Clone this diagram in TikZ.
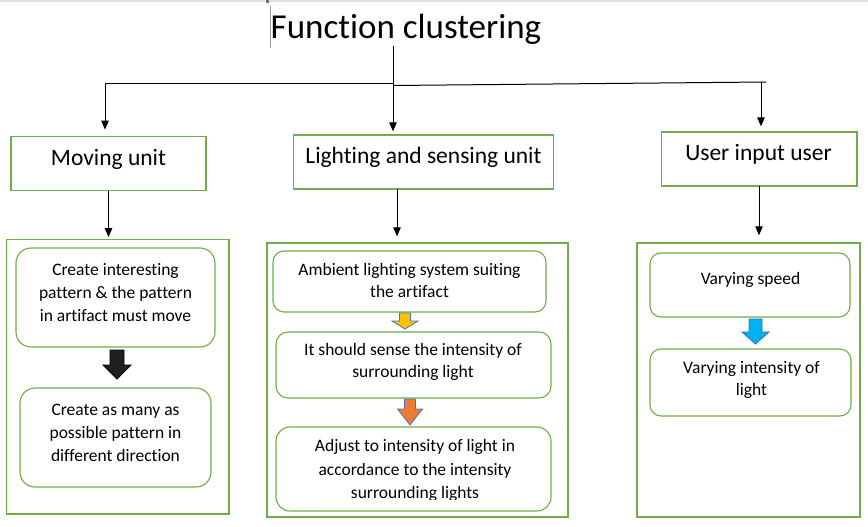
\documentclass[tikz,border=0pt]{standalone}
\usepackage{fontspec}
\setmainfont{Carlito}[Ligatures={NoCommon}]
\usetikzlibrary{arrows.meta}
\definecolor{grn}{HTML}{70AD47}
\definecolor{ayel}{HTML}{FFC000}
\definecolor{aora}{HTML}{ED7D31}
\definecolor{ablu}{HTML}{00B0F0}
\definecolor{aedge}{HTML}{4472C4}
\definecolor{bedge}{HTML}{2E75B6}
\tikzset{
  hbox/.style={draw=grn, line width=1.3pt, inner sep=0pt},
  obox/.style={draw=grn, line width=1.4pt, inner sep=0pt},
  ibox/.style={draw=grn, line width=1.1pt, inner sep=0pt, rounded corners=#1},
  htext/.style={anchor=base, inner sep=0pt, font=\fontsize{23.5}{28}\selectfont},
  itext/.style={anchor=base, inner sep=0pt, align=center, font=\fontsize{17.5}{23.3}\selectfont},
  ln/.style={draw=black, line width=1pt},
  arr/.style={ln, -{Triangle[width=7.5pt,length=9pt]}},
  blk/.style={line width=0.8pt, line join=miter}
}
\begin{document}
\begin{tikzpicture}[x=1pt,y=-1pt]
\useasboundingbox (0,0) rectangle (868,527);
% page artifacts
\draw[draw=black!12, line width=2pt] (0,1) -- (868,1);
\fill[black!55] (266,0) rectangle (269,3);
\draw[draw=black!40, line width=0.7pt] (270,6) -- (270,48);

% title
\node[anchor=base, inner sep=0pt, font=\fontsize{35}{40}\selectfont] (title) at (406,39) {Function clustering};

% header boxes
\node[hbox, minimum width=195pt, minimum height=54pt] (mov) at (108.5,163.25) {};
\node[htext] (movt) at (108.5,165) {Moving unit};
\node[hbox, minimum width=260pt, minimum height=54pt] (lig) at (423.5,162) {};
\node[htext] (ligt) at (423.5,163.5) {Lighting and sensing unit};
\node[hbox, minimum width=195.5pt, minimum height=54pt] (usr) at (759.25,159) {};
\node[htext] (usrt) at (758.5,160) {User input user};

% tree connectors
\coordinate (tb) at (393,46);
\coordinate (tj) at (393,84);
\coordinate (tj2) at (393,85.5);
\coordinate (tl) at (105,84);
\coordinate (tr) at (766,82);
\coordinate (trd) at (761,82.5);
\draw[arr, shorten >=3pt] (tb) -- (lig.north -| tb);
\draw[ln] (tl) -- (tj);
\draw[ln] (tj2) -- (tr);
\draw[arr, shorten >=6pt] (tl) -- (mov.north -| tl);
\draw[arr, shorten >=5pt] (trd) -- (usr.north -| trd);

% outer boxes
\node[obox, minimum width=222.3pt, minimum height=274.7pt] (lo) at (117.85,376.65) {};
\node[obox, minimum width=301pt, minimum height=274pt] (mo) at (417.5,380) {};
\node[obox, minimum width=223pt, minimum height=274pt] (ro) at (748.5,380) {};

\coordinate (ma) at (397,189);
\coordinate (ra) at (759,186);
\draw[arr, shorten >=1.5pt] (mov.south) -- (lo.north -| mov.south);
\draw[arr, shorten >=6pt] (ma) -- (mo.north -| ma);
\draw[arr, shorten >=7pt] (ra) -- (ro.north -| ra);

% left column
\node[ibox=15pt, minimum width=199pt, minimum height=99pt] (l1) at (115.5,297.5) {};
\node[itext] (l1t) at (115.5,321.6) {Create interesting\\pattern \& the pattern\\in artifact must move};
\node[ibox=15pt, minimum width=191pt, minimum height=99pt] (l2) at (115.5,437.5) {};
\node[itext] (l2t) at (115.5,461.6) {Create as many as\\possible pattern in\\different direction};
\filldraw[blk, fill=black!88, draw=black] (110,350) -- (124,350) -- (124,365) -- (131,365) -- (117,379) -- (103,365) -- (110,365) -- cycle;

% middle column
\node[ibox=11pt, minimum width=273pt, minimum height=61pt] (m1) at (409.5,281.5) {};
\node[itext, font=\fontsize{17.5}{22.5}\selectfont] (m1t) at (409.5,297.5) {Ambient lighting system suiting\\the artifact};
\node[ibox=12pt, minimum width=275pt, minimum height=66pt] (m2) at (413.5,365) {};
\node[itext, font=\fontsize{17.5}{22}\selectfont] (m2t) at (413,377) {It should sense the intensity of\\surrounding light};
\node[ibox=14pt, minimum width=275pt, minimum height=84pt] (m3) at (413.5,469) {};
\begin{scope}
\clip (270,430) rectangle (560,499.5);
\node[itext] (m3t) at (415,498.3) {Adjust to intensity of light in\\accordance to the intensity\\surrounding lights};
\end{scope}
\filldraw[blk, fill=ayel, draw=aedge] (399.5,313) -- (410.5,313) -- (410.5,321) -- (418,321) -- (405,329) -- (392,321) -- (399.5,321) -- cycle;
\filldraw[blk, fill=aora, draw=aedge] (404.5,399) -- (415.5,399) -- (415.5,409) -- (422.5,409) -- (410,425) -- (397.5,409) -- (404.5,409) -- cycle;

% right column
\node[ibox=11pt, minimum width=200pt, minimum height=64pt] (r1) at (750,285) {};
\node[itext] (r1t) at (750.5,284) {Varying speed};
\node[ibox=11pt, minimum width=201pt, minimum height=67pt] (r2) at (750.5,382.5) {};
\node[itext, font=\fontsize{17.5}{22.4}\selectfont] (r2t) at (751.5,395.7) {Varying intensity of\\light};
\filldraw[blk, fill=ablu, draw=bedge] (749,319) -- (762,319) -- (762,332) -- (769,332) -- (755.5,344) -- (742,332) -- (749,332) -- cycle;
\end{tikzpicture}
\end{document}
